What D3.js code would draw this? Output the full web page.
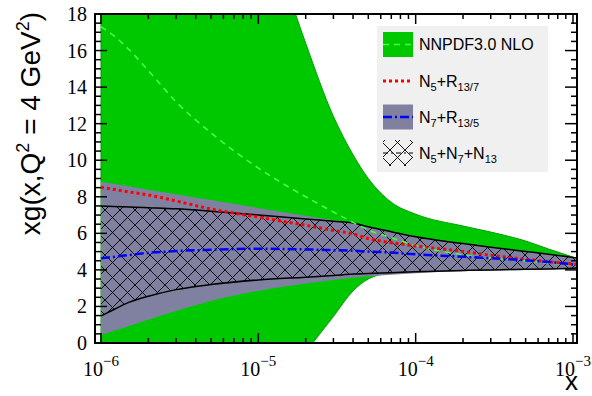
<!DOCTYPE html>
<html>
<head>
<meta charset="utf-8">
<script src="https://cdn.jsdelivr.net/npm/d3@7"></script>
<style>
  body { margin: 0; background: #fff; }
</style>
</head>
<body>
<svg id="chart" width="592" height="396"></svg>
<script>
// x grid (log spaced)
const xVals   = [1e-6, 1.2e-6, 1.5e-6, 2e-6, 3e-6, 5e-6, 1e-5, 2e-5, 3e-5, 4e-5, 5e-5, 7e-5, 1e-4, 2e-4, 3e-4, 5e-4, 7e-4, 1e-3, 1.06e-3];

// NNPDF3.0 NLO band + central
const nnpdfHi = [49.5, 47.5, 45, 41.9, 37.4, 31.8, 24.2, 16.4, 12.4, 10.3, 9.0, 7.7, 7.05, 6.4, 6.07, 5.58, 5.14, 4.7, 4.62];
const nnpdfLo = [-15.5, -14.5, -13.5, -12, -10, -7.5, -4, -0.5, 1.45, 2.85, 3.5, 3.84, 3.93, 4.0, 4.02, 4.05, 4.08, 4.1, 4.1];
const nnpdfCv = [17.3, 16.83, 16.07, 14.9, 13.2, 11.5, 9.57, 8.0, 7.17, 6.6, 6.18, 5.76, 5.34, 4.83, 4.65, 4.49, 4.38, 4.27, 4.25];

// N7+R13/5 band + central
const n7r13Hi = [8.82, 8.71, 8.57, 8.39, 8.14, 7.82, 7.39, 6.96, 6.71, 6.56, 6.39, 6.12, 5.84, 5.47, 5.27, 5.04, 4.89, 4.71, 4.68];
const n7r13Lo = [0.44, 0.65, 0.92, 1.27, 1.75, 2.3, 2.85, 3.25, 3.45, 3.57, 3.65, 3.74, 3.82, 3.92, 3.96, 4.0, 4.02, 4.05, 4.06];
const n7r13Cv = [4.63, 4.71, 4.81, 4.93, 5.03, 5.1, 5.16, 5.12, 5.08, 5.05, 5.0, 4.95, 4.85, 4.72, 4.64, 4.52, 4.43, 4.3, 4.27];

// N5+N7+N13 band
const combHi  = [7.49, 7.47, 7.44, 7.40, 7.34, 7.21, 7.0, 6.78, 6.66, 6.57, 6.36, 6.09, 5.81, 5.44, 5.24, 5.01, 4.86, 4.68, 4.65];
const combLo  = [1.48, 1.82, 2.22, 2.56, 2.92, 3.2, 3.45, 3.6, 3.69, 3.77, 3.8, 3.85, 3.9, 3.97, 4.0, 4.03, 4.05, 4.09, 4.1];

// N5+R13/7 central
const n5r13Cv = [8.52, 8.41, 8.27, 8.1, 7.77, 7.33, 6.89, 6.44, 6.16, 5.97, 5.71, 5.49, 5.31, 5.01, 4.8, 4.58, 4.45, 4.32, 4.3];

const xMajor = [1e-6, 1e-5, 1e-4, 1e-3];
const xMajorExp = ["\u22126", "\u22125", "\u22124", "\u22123"];
const yMajor = [0, 2, 4, 6, 8, 10, 12, 14, 16, 18];

const green = "#00c800";
const grey = "#8080a0";
const sans = "'Liberation Sans', Arial, sans-serif";
const serif = "'Liberation Serif', 'Times New Roman', 'DejaVu Serif', serif";

const svg = d3.select("#chart");
const pLeft = 95, pRight = 577, pTop = 14, pBottom = 343;

const x = d3.scaleLog()
  .domain([Math.pow(10, -6.0381), Math.pow(10, -2.9746)])
  .range([pLeft, pRight]);
const y = d3.scaleLinear().domain([0, 18]).range([pBottom, pTop]);

const defs = svg.append("defs");
defs.append("clipPath").attr("id", "clip")
  .append("rect").attr("x", pLeft).attr("y", pTop)
  .attr("width", pRight - pLeft).attr("height", pBottom - pTop);

const hs = 15;
const pat = defs.append("pattern").attr("id", "hatch")
  .attr("patternUnits", "userSpaceOnUse")
  .attr("width", hs).attr("height", hs);
pat.append("path")
  .attr("d", `M0,0L${hs},${hs}M${hs},0L0,${hs}`)
  .attr("stroke", "#000").attr("stroke-width", 0.9).attr("fill", "none");

const band = (lo, hi) => xVals.map((v, i) => ({ x: v, lo: lo[i], hi: hi[i] }));
const curve = vals => xVals.map((v, i) => ({ x: v, y: vals[i] }));

const area = d3.area().curve(d3.curveMonotoneX)
  .x(d => x(d.x)).y0(d => y(d.lo)).y1(d => y(d.hi));
const line = d3.line().curve(d3.curveMonotoneX)
  .x(d => x(d.x)).y(d => y(d.y));

const plot = svg.append("g").attr("clip-path", "url(#clip)");

// NNPDF band
plot.append("path").datum(band(nnpdfLo, nnpdfHi))
  .attr("d", area).attr("fill", green)
  .attr("stroke", "#00a000").attr("stroke-width", 1);

// N7+R13/5 band
plot.append("path").datum(band(n7r13Lo, n7r13Hi))
  .attr("d", area).attr("fill", grey);

// combined hatched band
plot.append("path").datum(band(combLo, combHi))
  .attr("d", area).attr("fill", "url(#hatch)");
plot.append("path").datum(curve(combHi))
  .attr("d", line).attr("fill", "none").attr("stroke", "#000").attr("stroke-width", 1.5);
plot.append("path").datum(curve(combLo))
  .attr("d", line).attr("fill", "none").attr("stroke", "#000").attr("stroke-width", 1.5);

// central lines
plot.append("path").datum(curve(nnpdfCv))
  .attr("d", line).attr("fill", "none").attr("stroke", "#44ff44")
  .attr("stroke-width", 1.6).attr("stroke-dasharray", "6,5");
plot.append("path").datum(curve(n5r13Cv))
  .attr("d", line).attr("fill", "none").attr("stroke", "#ff0000")
  .attr("stroke-width", 3).attr("stroke-dasharray", "3,3");
plot.append("path").datum(curve(n7r13Cv))
  .attr("d", line).attr("fill", "none").attr("stroke", "#0000ff")
  .attr("stroke-width", 2.5).attr("stroke-dasharray", "9,3,2,3");

// frame
svg.append("rect").attr("x", pLeft).attr("y", pTop)
  .attr("width", pRight - pLeft).attr("height", pBottom - pTop)
  .attr("fill", "none").attr("stroke", "#000").attr("stroke-width", 2);

// ticks
const ticks = svg.append("g").attr("stroke", "#000").attr("stroke-width", 1.5);
const xTicks = [];
for (let d = -6; d <= -3; d++) {
  for (let k = 1; k <= 9; k++) {
    const v = k * Math.pow(10, d);
    if (v >= x.domain()[0] && v <= x.domain()[1]) xTicks.push({ v, major: k === 1 });
  }
}
xTicks.forEach(t => {
  const px = x(t.v), len = t.major ? 10 : 5;
  ticks.append("line").attr("x1", px).attr("x2", px).attr("y1", pBottom).attr("y2", pBottom - len);
  ticks.append("line").attr("x1", px).attr("x2", px).attr("y1", pTop).attr("y2", pTop + len);
});
d3.range(0, 18.01, 0.5).forEach(v => {
  const major = Math.abs(v % 2) < 1e-9;
  const py = y(v), len = major ? 12 : 6;
  ticks.append("line").attr("x1", pLeft).attr("x2", pLeft + len).attr("y1", py).attr("y2", py);
  ticks.append("line").attr("x1", pRight).attr("x2", pRight - len).attr("y1", py).attr("y2", py);
});

// x tick labels
xMajor.forEach((v, i) => {
  const t = svg.append("text").attr("font-family", serif)
    .attr("x", x(v)).attr("y", 376).attr("text-anchor", "middle")
    .attr("font-size", 20).attr("fill", "#000");
  t.append("tspan").text("10");
  t.append("tspan").attr("dy", -10).attr("font-size", 15).text(xMajorExp[i]);
});

// y tick labels
yMajor.forEach(v => {
  svg.append("text").attr("font-family", serif)
    .attr("x", 87).attr("y", y(v)).attr("dy", "0.35em")
    .attr("text-anchor", "end").attr("font-size", 20).attr("fill", "#000")
    .text(v);
});

// axis titles
svg.append("text").attr("font-family", sans)
  .attr("x", 578).attr("y", 390).attr("text-anchor", "end")
  .attr("font-size", 26).text("x");

const yt = svg.append("text").attr("font-family", sans)
  .attr("transform", "translate(40,12) rotate(-90)")
  .attr("text-anchor", "end").attr("font-size", 28);
yt.append("tspan").text("xg(x,Q");
yt.append("tspan").attr("dy", -11).attr("font-size", 18).text("2");
yt.append("tspan").attr("dy", 11).text(" = 4 GeV");
yt.append("tspan").attr("dy", -11).attr("font-size", 18).text("2");
yt.append("tspan").attr("dy", 11).text(")");

// legend
const lg = svg.append("g");
lg.append("rect").attr("x", 377).attr("y", 26).attr("width", 171).attr("height", 146)
  .attr("fill", "#f0f0f0");

const legendRows = [
  [["NNPDF3.0 NLO", 0]],
  [["N", 0], ["5", 1], ["+R", 0], ["13/7", 1]],
  [["N", 0], ["7", 1], ["+R", 0], ["13/5", 1]],
  [["N", 0], ["5", 1], ["+N", 0], ["7", 1], ["+N", 0], ["13", 1]]
];
const rowY = [44.5, 81, 117, 153];

// symbols
lg.append("rect").attr("x", 383).attr("y", rowY[0] - 12.5).attr("width", 30).attr("height", 25).attr("fill", green);
lg.append("line").attr("x1", 383).attr("x2", 413).attr("y1", rowY[0]).attr("y2", rowY[0])
  .attr("stroke", "#44ff44").attr("stroke-width", 1.6).attr("stroke-dasharray", "6,5");
lg.append("line").attr("x1", 383).attr("x2", 413).attr("y1", rowY[1]).attr("y2", rowY[1])
  .attr("stroke", "#ff0000").attr("stroke-width", 3).attr("stroke-dasharray", "3,3");
lg.append("rect").attr("x", 383).attr("y", rowY[2] - 12.5).attr("width", 30).attr("height", 25).attr("fill", grey);
lg.append("line").attr("x1", 383).attr("x2", 413).attr("y1", rowY[2]).attr("y2", rowY[2])
  .attr("stroke", "#0000ff").attr("stroke-width", 2.5).attr("stroke-dasharray", "9,3,2,3");
lg.append("rect").attr("x", 383).attr("y", rowY[3] - 13).attr("width", 30).attr("height", 26).attr("fill", "url(#hatch)");
lg.append("line").attr("x1", 383).attr("x2", 413).attr("y1", rowY[3]).attr("y2", rowY[3])
  .attr("stroke", "#000").attr("stroke-width", 1).attr("stroke-dasharray", "5,3,2,3");

legendRows.forEach((parts, i) => {
  const t = lg.append("text").attr("font-family", sans)
    .attr("x", 419).attr("y", rowY[i] + 5.5).attr("font-size", 16).attr("fill", "#000");
  let sub = 0;
  parts.forEach(([s, isSub]) => {
    const dy = isSub && !sub ? 4 : (!isSub && sub ? -4 : 0);
    t.append("tspan").attr("dy", dy).attr("font-size", isSub ? 11 : 16).text(s);
    sub = isSub;
  });
});
</script>
</body>
</html>
